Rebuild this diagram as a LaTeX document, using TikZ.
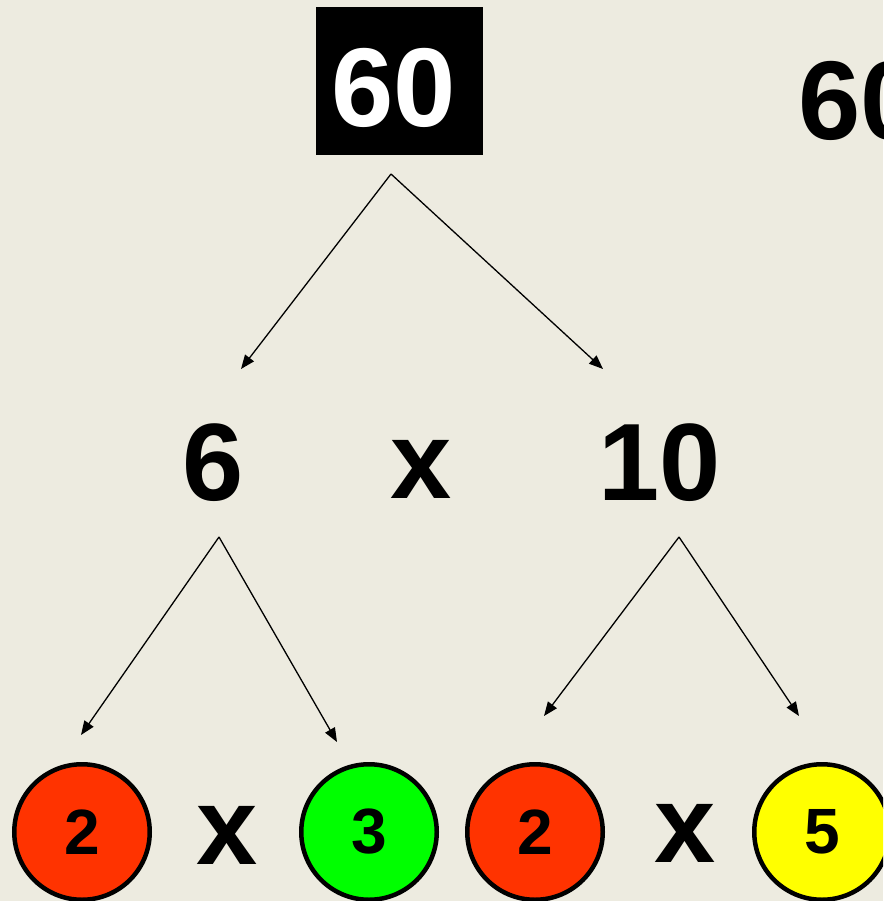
\documentclass[tikz,border=0pt]{standalone}
\usepackage{fontspec}
\setmainfont{Liberation Sans}
\usetikzlibrary{arrows.meta}
\definecolor{bg}{RGB}{237,235,224}
\definecolor{cred}{RGB}{255,51,0}
\definecolor{cgreen}{RGB}{0,255,0}
\definecolor{cyellow}{RGB}{255,255,0}
\tikzset{
  big/.style={font=\fontsize{110}{110}\selectfont\bfseries, inner sep=0pt, anchor=base},
  ball/.style={circle, draw=black, line width=4.5pt, minimum size=135.5pt, inner sep=0pt,
    font=\fontsize{64}{64}\selectfont\bfseries},
  arr/.style={-{Triangle[length=14pt,width=11pt]}, line width=1.3pt, black},
}
\begin{document}
\begin{tikzpicture}[x=1pt,y=-1pt]
\fill[bg] (0,0) rectangle (883,901);
\useasboundingbox (0,0) rectangle (883,901);
\clip (0,0) rectangle (883,901);
% top box
\node[fill=black, minimum width=167pt, minimum height=148pt, inner sep=0pt] (box) at (399.5,81) {};
\node[big, text=white, font=\fontsize{112}{112}\selectfont\bfseries] (sixty) at (394,127) {60};
\node[big, anchor=base west, font=\fontsize{112}{112}\selectfont\bfseries] (sixtyr) at (798,140) {60};
% middle row
\node[big] (six) at (213,500) {6};
\node[big] (xm) at (421,498) {x};
\node[big] (ten) at (660,500) {10};
% bottom row
\node[ball, fill=cred] (b1) at (82,832) {2};
\node[big] (x1) at (227,864) {x};
\node[ball, fill=cgreen] (b2) at (369,832) {3};
\node[ball, fill=cred] (b3) at (535,832) {2};
\node[big] (x2) at (685,862) {x};
\node[ball, fill=cyellow] (b4) at (822,832) {5};
% connector ends
\coordinate (s0) at (391,174);
\coordinate (e1) at (241,369);
\coordinate (e2) at (603,369);
\coordinate (s1) at (219,537);
\coordinate (e3) at (81,735);
\coordinate (e4) at (337,742);
\coordinate (s2) at (679,537);
\coordinate (e5) at (544,716);
\coordinate (e6) at (799,716);
\draw[arr] (s0) -- (e1);
\draw[arr] (s0) -- (e2);
\draw[arr] (s1) -- (e3);
\draw[arr] (s1) -- (e4);
\draw[arr] (s2) -- (e5);
\draw[arr] (s2) -- (e6);
\end{tikzpicture}
\end{document}
